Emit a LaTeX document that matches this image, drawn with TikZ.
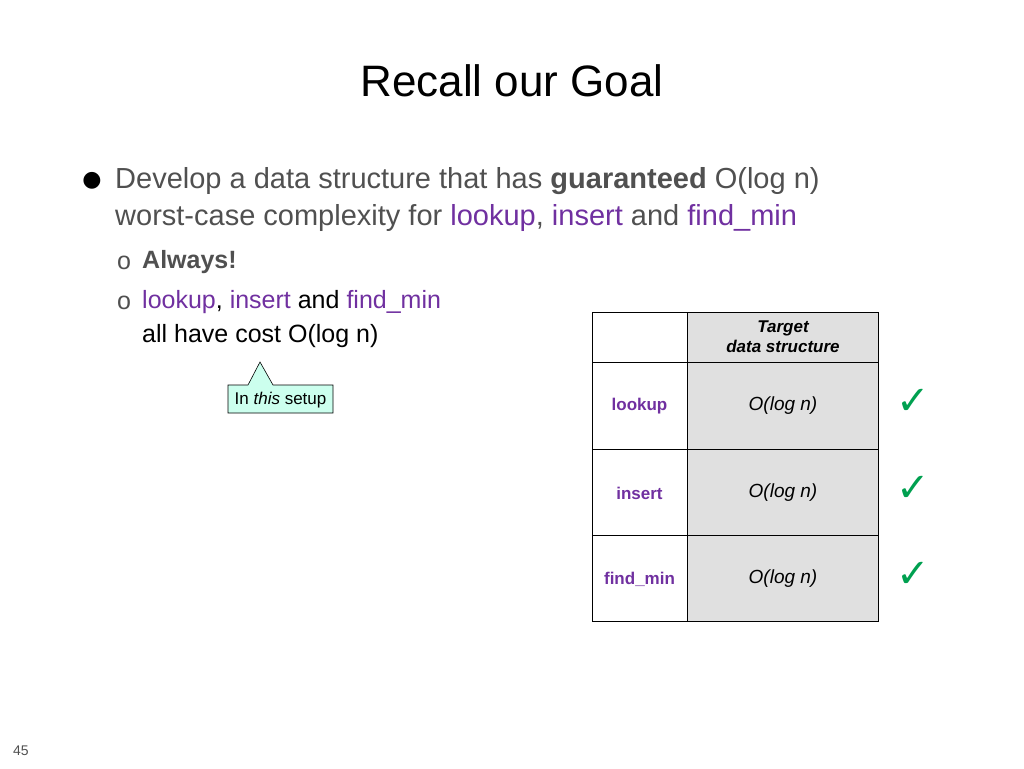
\documentclass[tikz,border=0pt]{standalone}
\usepackage{fontspec}
\setmainfont{Liberation Sans}
\newfontfamily\djv{DejaVu Sans}
\usetikzlibrary{positioning}
\definecolor{pur}{RGB}{112,48,160}
\definecolor{txt}{RGB}{80,80,80}
\definecolor{chk}{RGB}{0,160,80}
\definecolor{cell}{RGB}{224,224,224}
\definecolor{call}{RGB}{204,255,238}
\newcommand{\fs}[1]{\fontsize{#1}{#1}\selectfont}
\tikzset{
 body/.style={anchor=west,inner sep=0pt,text=txt,font=\fs{29}},
 sub/.style={anchor=west,inner sep=0pt,font=\fs{25}},
 tcell/.style={font=\fs{17}\bfseries,text=pur},
 val/.style={font=\fs{19}\itshape},
 check/.style={text=chk,font=\djv\fs{40}},
 grid/.style={draw=black,line width=0.8pt}
}
\begin{document}
\begin{tikzpicture}[x=1pt,y=-1pt]
\useasboundingbox (0,0) rectangle (1024,768);
\node[font=\fs{44}] (title) at (512,81) {Recall our Goal};
\node[anchor=center,text=black,font=\djv\fs{22}] (b1) at (92,181) {●};
\node[body] (l1) at (115,181) {Develop a data structure that has \textbf{guaranteed} O(log n)};
\node[body] (l2) at (115,218) {worst-case complexity for \textcolor{pur}{lookup}, \textcolor{pur}{insert} and \textcolor{pur}{find\_min}};
\node[sub,text=txt] (o1) at (117,263) {o};
\node[sub,text=txt] (s1) at (142,262) {\textbf{Always!}};
\node[sub,text=txt] (o2) at (117,303) {o};
\node[sub] (s2) at (142,302) {\textcolor{pur}{lookup}, \textcolor{pur}{insert} \textcolor{black}{and} \textcolor{pur}{find\_min}};
\node[sub] (s3) at (142,336) {all have cost O(log n)};
% callout
\draw[fill=call,draw=black,line width=0.6pt] (228,385) -- (248,385) -- (260,362) -- (273,385) -- (333,385) -- (333,413) -- (228,413) -- cycle;
\node[font=\fs{17}] (cal) at (280.5,400) {In \textit{this} setup};
% table
\fill[cell] (687,312) rectangle (878,621);
\draw[grid] (592,312) rectangle (878,621);
\draw[grid] (687,312) -- (687,621);
\foreach \y in {362,449,535} \draw[grid] (592,\y) -- (878,\y);
\node[font=\fs{17}\bfseries\itshape,align=center] (hd) at (783,337) {Target\\[3pt]data structure};
\node[tcell] (r1) at (639.5,406) {lookup};
\node[tcell] (r2) at (639.5,493) {insert};
\node[tcell] (r3) at (639.5,579) {find\_min};
\node[val] (v1) at (783,406) {O(log n)};
\node[val] (v2) at (783,493) {O(log n)};
\node[val] (v3) at (783,579) {O(log n)};
\node[check] (c1) at (913,402) {✓};
\node[check] (c2) at (913,489) {✓};
\node[check] (c3) at (913,575) {✓};
\node[font=\fs{14},text=txt] (pg) at (21,751) {45};
\end{tikzpicture}
\end{document}
